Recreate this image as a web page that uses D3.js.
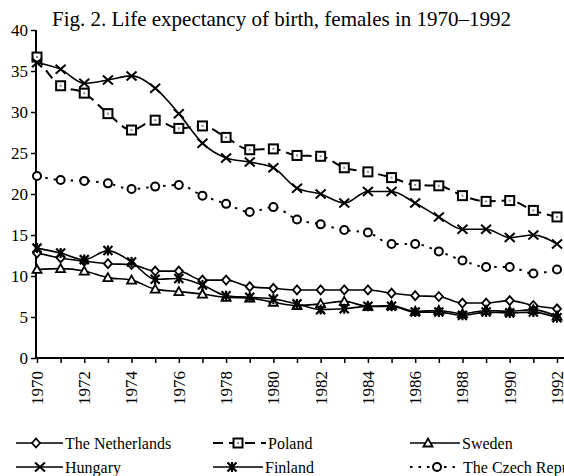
<!DOCTYPE html>
<html>
<head>
<meta charset="utf-8">
<script src="https://cdn.jsdelivr.net/npm/d3@7"></script>
<style>
body { margin: 0; background: #fff; }
svg { display: block; }
text { font-family: "Liberation Serif", "Times New Roman", serif; fill: #000; }
</style>
</head>
<body>
<div id="chart"></div>
<script>
var years = d3.range(1970, 1993)
var yearLabels = d3.range(1970, 1993, 2)
var yTicks = [0, 5, 10, 15, 20, 25, 30, 35, 40]

var netherlands = [12.8, 12.2, 11.8, 11.5, 11.4, 10.6, 10.6, 9.5, 9.5, 8.7, 8.5, 8.3, 8.3, 8.3, 8.3, 7.9, 7.6, 7.5, 6.7, 6.7, 7.0, 6.4, 6.0]
var poland = [36.7, 33.2, 32.3, 29.8, 27.8, 29.0, 28.0, 28.3, 26.9, 25.4, 25.5, 24.7, 24.6, 23.2, 22.7, 22.0, 21.1, 21.0, 19.8, 19.1, 19.2, 18.0, 17.2]
var sweden = [10.8, 10.9, 10.6, 9.8, 9.5, 8.4, 8.1, 7.8, 7.4, 7.3, 6.8, 6.4, 6.6, 6.9, 6.3, 6.4, 5.7, 5.8, 5.4, 5.8, 5.7, 5.9, 5.1]
var hungary = [36.0, 35.2, 33.5, 33.9, 34.4, 32.9, 29.8, 26.2, 24.4, 23.9, 23.2, 20.7, 20.0, 18.9, 20.3, 20.3, 18.9, 17.2, 15.7, 15.7, 14.7, 15.0, 13.9]
var finland = [13.4, 12.8, 12.0, 13.1, 11.7, 9.6, 9.7, 8.9, 7.6, 7.4, 7.2, 6.6, 5.9, 6.0, 6.3, 6.3, 5.6, 5.6, 5.2, 5.6, 5.5, 5.6, 4.9]
var czech = [22.2, 21.7, 21.6, 21.3, 20.6, 20.9, 21.1, 19.8, 18.8, 17.8, 18.4, 16.9, 16.3, 15.6, 15.3, 13.9, 13.9, 13.0, 11.9, 11.1, 11.1, 10.3, 10.8]

var series = [
    {name: 'The Netherlands', values: netherlands, marker: 'diamond', dash: null},
    {name: 'Poland', values: poland, marker: 'square', dash: '10,6'},
    {name: 'Sweden', values: sweden, marker: 'triangle', dash: null},
    {name: 'Hungary', values: hungary, marker: 'cross', dash: null},
    {name: 'Finland', values: finland, marker: 'asterisk', dash: null},
    {name: 'The Czech Republic', values: czech, marker: 'circle', dash: '2.5,6'}
]

var width = 564, height = 476

var svg = d3.select('#chart')
            .append('svg')
            .attr('width', width)
            .attr('height', height)

var x = d3.scaleLinear().domain([1970, 1992]).range([37, 557])
var y = d3.scaleLinear().domain([0, 40]).range([358, 30])

svg.append('text')
    .attr('x', 52)
    .attr('y', 26)
    .style('font-size', '21px')
    .text('Fig. 2. Life expectancy of birth, females in 1970\u20131992')

// y axis
var yAxis = svg.append('g')
    .attr('transform', 'translate(36,0)')
    .call(d3.axisLeft(y).tickValues(yTicks).tickSize(5).tickPadding(3))
yAxis.select('.domain').attr('stroke-width', 2).attr('d', 'M0,30V359')
yAxis.selectAll('.tick line').attr('stroke-width', 1.5)
yAxis.selectAll('.tick text').style('font-size', '17px').style('font-family', '"Liberation Serif", serif')

// x axis
var xAxis = svg.append('g')
    .attr('transform', 'translate(0,358)')
    .call(d3.axisBottom(x).tickValues(years).tickSize(5).tickFormat(''))
xAxis.select('.domain').attr('stroke-width', 2).attr('d', 'M35,0H600')
xAxis.selectAll('.tick line').attr('stroke-width', 1.5)

svg.append('g').selectAll('text')
    .data(yearLabels)
    .join('text')
    .attr('transform', d => `translate(${x(d)},371)rotate(-90)`)
    .attr('text-anchor', 'end')
    .attr('dy', '0.35em')
    .style('font-size', '17px')
    .text(d => d)

function drawMarker(g, type) {
    if (type == 'diamond') {
        g.append('path').attr('d', 'M0,-4.5L4,0L0,4.5L-4,0Z').attr('fill', '#fff').attr('stroke', '#000').attr('stroke-width', 1.8)
    } else if (type == 'square') {
        g.append('rect').attr('x', -4.5).attr('y', -4.5).attr('width', 9).attr('height', 9).attr('fill', '#fff').attr('stroke', '#000').attr('stroke-width', 2)
        g.append('rect').attr('x', -1).attr('y', -1).attr('width', 2).attr('height', 2).attr('fill', '#888')
    } else if (type == 'triangle') {
        g.append('path').attr('d', 'M0,-4.5L4.5,3.5L-4.5,3.5Z').attr('fill', '#fff').attr('stroke', '#000').attr('stroke-width', 1.8)
    } else if (type == 'cross') {
        g.append('path').attr('d', 'M-5,-4.5L5,4.5M-5,4.5L5,-4.5').attr('stroke', '#000').attr('stroke-width', 2)
    } else if (type == 'asterisk') {
        g.append('path').attr('d', 'M-4.5,-4.5L4.5,4.5M-4.5,4.5L4.5,-4.5M0,-5V5').attr('stroke', '#000').attr('stroke-width', 2.2)
        g.append('circle').attr('r', 2.5).attr('fill', '#000')
    } else if (type == 'circle') {
        g.append('circle').attr('r', 4).attr('fill', '#fff').attr('stroke', '#000').attr('stroke-width', 2)
    }
}

var line = d3.line()
    .x((d, i) => x(years[i]))
    .y(d => y(d))
    .curve(d3.curveMonotoneX)

var plot = svg.append('g')

series.forEach(function (s) {
    plot.append('path')
        .attr('d', line(s.values))
        .attr('fill', 'none')
        .attr('stroke', '#000')
        .attr('stroke-width', s.dash ? 2 : 1.6)
        .attr('stroke-dasharray', s.dash)
})

series.forEach(function (s) {
    s.values.forEach(function (v, i) {
        var g = plot.append('g').attr('transform', `translate(${x(years[i])},${y(v)})`)
        drawMarker(g, s.marker)
    })
})

// legend: line start, marker offset, text start
var legendPos = [
    {lx: 16, ly: 443, mx: 20, tx: 49},
    {lx: 213, ly: 443, mx: 25, tx: 55},
    {lx: 410, ly: 443, mx: 18, tx: 52},
    {lx: 16, ly: 467, mx: 24, tx: 49},
    {lx: 213, ly: 467, mx: 19, tx: 52},
    {lx: 410, ly: 467, mx: 27, tx: 53}
]

series.forEach(function (s, i) {
    var p = legendPos[i]
    var lg = svg.append('g').attr('transform', `translate(${p.lx},${p.ly})`)
    lg.append('line')
        .attr('x1', 0).attr('x2', p.tx - 2)
        .attr('stroke', '#000')
        .attr('stroke-width', s.dash ? 2 : 1.5)
        .attr('stroke-dasharray', s.dash)
    drawMarker(lg.append('g').attr('transform', `translate(${p.mx},0)`), s.marker)
    lg.append('text')
        .attr('x', p.tx)
        .attr('dy', '0.35em')
        .style('font-size', '16px')
        .text(s.name)
})
</script>
</body>
</html>
